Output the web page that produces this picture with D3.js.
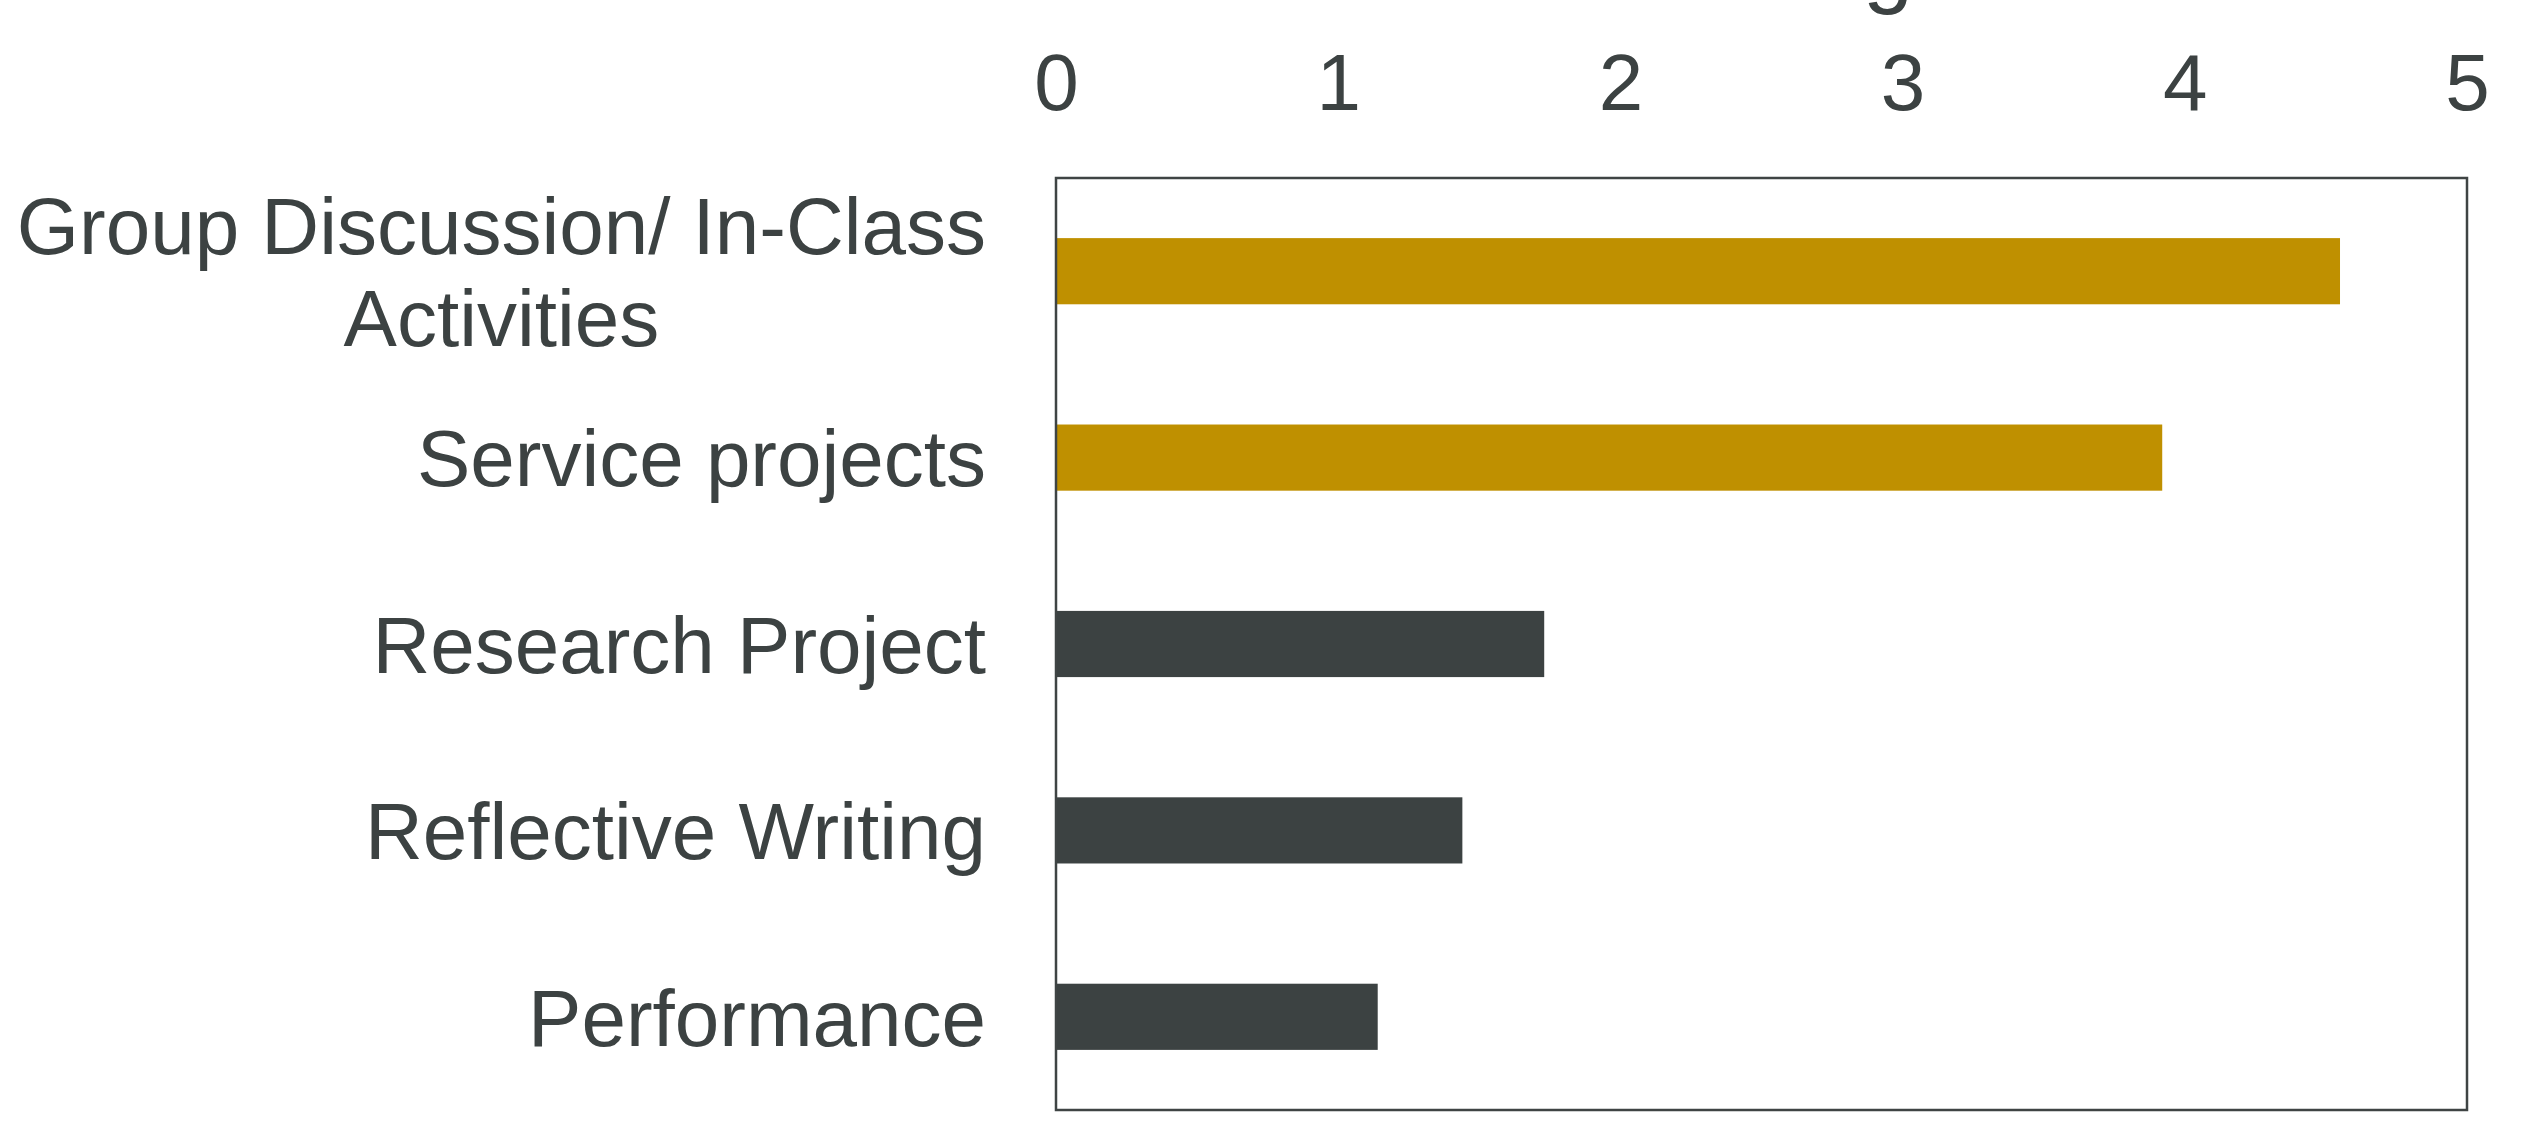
<!DOCTYPE html>
<html>
<head>
<meta charset="utf-8">
<script src="https://cdn.jsdelivr.net/npm/d3@7"></script>
<style>
  body { margin: 0; background: #fff; }
  svg { display: block; font-family: "Liberation Sans", Arial, sans-serif; }
</style>
</head>
<body>
<svg width="2541" height="1140"></svg>
<script>
// data
const categories = ["Group Discussion/ In-Class Activities", "Service projects", "Research Project", "Reflective Writing", "Performance"];
const scores = [4.55, 3.92, 1.73, 1.44, 1.14];
const highlighted = [true, true, false, false, false];
const tickValues = [0, 1, 2, 3, 4, 5];
const chartTitle = "Perceived Effectiveness of Teaching"; // mostly off the top edge

const gold = '#bf9000';
const dark = '#3c4242';

const svg = d3.select('svg');

// plot box
const box = { left: 1056, right: 2467, top: 178, bottom: 1110 };
const labelPad = 70;

const x = d3.scaleLinear().domain([0, 5]).range([box.left, box.right]);
const y = d3.scaleBand()
  .domain(categories)
  .range([box.top, box.bottom])
  .paddingInner(0.645)
  .paddingOuter(0.3225);

// title (cut off by the top of the picture)
svg.append('text')
  .attr('x', 1913)
  .attr('y', -4)
  .attr('text-anchor', 'end')
  .style('font-size', '90px')
  .style('fill', dark)
  .text(chartTitle);

// bars
svg.selectAll('.bar')
  .data(categories)
  .enter()
  .append('rect')
  .attr('class', 'bar')
  .attr('x', x(0))
  .attr('y', d => y(d))
  .attr('width', (d, i) => x(scores[i]) - x(0))
  .attr('height', y.bandwidth())
  .attr('fill', (d, i) => highlighted[i] ? gold : dark);

// frame round the plot
svg.append('rect')
  .attr('x', box.left)
  .attr('y', box.top)
  .attr('width', box.right - box.left)
  .attr('height', box.bottom - box.top)
  .attr('fill', 'none')
  .attr('stroke', '#3f4444')
  .attr('stroke-width', 2.5);

// top axis, labels only
const xAxis = svg.append('g')
  .attr('transform', 'translate(0,110)')
  .call(d3.axisTop(x).tickValues(tickValues).tickSize(0).tickPadding(0).tickFormat(d3.format('d')));
xAxis.select('.domain').remove();
xAxis.selectAll('text')
  .style('font-size', '80px')
  .style('font-family', '"Liberation Sans", Arial, sans-serif')
  .attr('fill', dark);

// category axis
const yAxis = svg.append('g')
  .attr('transform', `translate(${box.left},0)`)
  .call(d3.axisLeft(y).tickSize(0).tickPadding(labelPad));
yAxis.select('.domain').remove();
yAxis.selectAll('text')
  .style('font-size', '80px')
  .style('font-family', '"Liberation Sans", Arial, sans-serif')
  .attr('fill', dark)
  .call(wrap, 1000);

// wrap long labels onto several lines, each line centred under the widest one
function wrap(texts, width) {
  texts.each(function() {
    const text = d3.select(this);
    const words = text.text().split(' ');
    const lines = [];
    let line = [];
    text.text(null);
    const probe = text.append('tspan');
    words.forEach(w => {
      line.push(w);
      probe.text(line.join(' '));
      if (probe.node().getComputedTextLength() > width && line.length > 1) {
        line.pop();
        lines.push(line.join(' '));
        line = [w];
      }
    });
    lines.push(line.join(' '));
    if (lines.length === 1) { probe.remove(); text.text(lines[0]).attr('dy', '0.36em'); return; }
    let maxW = 0;
    lines.forEach(l => { probe.text(l); maxW = Math.max(maxW, probe.node().getComputedTextLength()); });
    probe.remove();
    const cx = -labelPad - maxW / 2;
    text.attr('dy', null).attr('text-anchor', 'middle');
    const lh = 1.14;
    const start = 0.36 - (lines.length - 1) * lh / 2;
    lines.forEach((l, i) => {
      text.append('tspan')
        .attr('x', cx)
        .attr('dy', (i === 0 ? start : lh) + 'em')
        .text(l);
    });
  });
}
</script>
</body>
</html>
